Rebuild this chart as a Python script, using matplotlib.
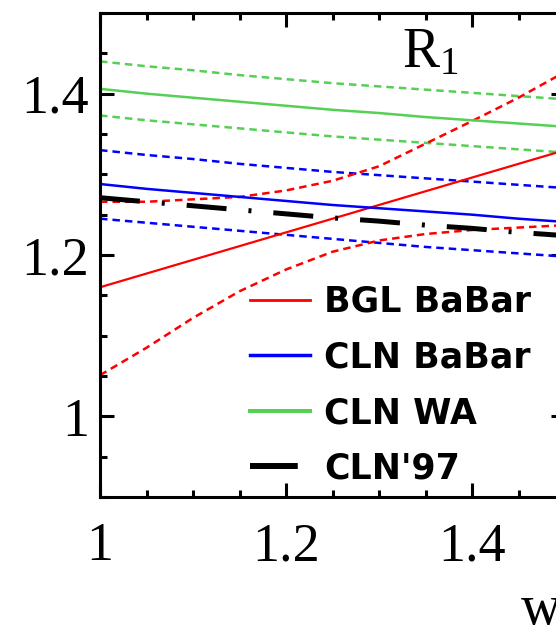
import matplotlib
matplotlib.use("Agg")
import matplotlib.pyplot as plt
import numpy as np
from matplotlib.ticker import MultipleLocator

# recoil w and the R1 curves
w = [1.00, 1.05, 1.10, 1.15, 1.20, 1.25, 1.30, 1.35, 1.40, 1.45, 1.50]

bgl_babar = [1.160, 1.177, 1.194, 1.211, 1.228, 1.245, 1.262, 1.279, 1.296, 1.313, 1.330]
bgl_babar_hi = [1.266, 1.266, 1.269, 1.272, 1.280, 1.292, 1.310, 1.338, 1.366, 1.395, 1.427]
bgl_babar_lo = [1.051, 1.085, 1.122, 1.155, 1.182, 1.204, 1.218, 1.226, 1.231, 1.234, 1.237]

cln_babar = [1.288, 1.282, 1.277, 1.272, 1.267, 1.262, 1.258, 1.254, 1.250, 1.245, 1.241]
cln_babar_hi = [1.330, 1.324, 1.319, 1.313, 1.308, 1.303, 1.299, 1.295, 1.291, 1.287, 1.283]
cln_babar_lo = [1.245, 1.240, 1.235, 1.230, 1.225, 1.220, 1.215, 1.210, 1.206, 1.202, 1.198]

cln_wa = [1.406, 1.400, 1.395, 1.390, 1.385, 1.380, 1.376, 1.371, 1.367, 1.363, 1.359]
cln_wa_hi = [1.440, 1.434, 1.429, 1.423, 1.418, 1.413, 1.409, 1.405, 1.401, 1.397, 1.393]
cln_wa_lo = [1.373, 1.367, 1.362, 1.357, 1.352, 1.347, 1.343, 1.339, 1.335, 1.331, 1.327]

cln97 = [1.271, 1.266, 1.261, 1.256, 1.251, 1.246, 1.242, 1.237, 1.233, 1.228, 1.224]

RED = "#ff0000"
BLUE = "#0000ff"
GREEN = "#55d055"
dotted = (0, (3, 2))

plt.rcParams["font.family"] = ["Liberation Serif", "DejaVu Serif"]
plt.rcParams["mathtext.fontset"] = "custom"
plt.rcParams["mathtext.rm"] = "Liberation Serif"

fig = plt.figure(figsize=(5.56, 6.25), dpi=100)
ax = fig.add_axes([100 / 556, 128 / 625, 465 / 556, 484 / 625])

ax.plot(w, cln_wa_hi, color=GREEN, lw=1.8, ls=dotted)
ax.plot(w, cln_wa_lo, color=GREEN, lw=1.8, ls=dotted)
ax.plot(w, cln_babar_hi, color=BLUE, lw=1.8, ls=dotted)
ax.plot(w, cln_babar_lo, color=BLUE, lw=1.8, ls=dotted)
ax.plot(w, bgl_babar_hi, color=RED, lw=1.8, ls=dotted)
ax.plot(w, bgl_babar_lo, color=RED, lw=1.8, ls=dotted)

ax.plot(w, bgl_babar, color=RED, lw=1.6, label="BGL BaBar")
ax.plot(w, cln_babar, color=BLUE, lw=1.8, label="CLN BaBar")
ax.plot(w, cln_wa, color=GREEN, lw=1.8, label="CLN WA")
ax.plot(w, cln97, color="black", lw=3.6, ls=(0, (8, 4.4, 0.6, 4.4)), label="CLN'97")

ax.set_xlim(1.0, 1.5)
ax.set_ylim(0.9, 1.5)
ax.xaxis.set_major_locator(MultipleLocator(0.2))
ax.xaxis.set_minor_locator(MultipleLocator(0.05))
ax.yaxis.set_major_locator(MultipleLocator(0.2))
ax.yaxis.set_minor_locator(MultipleLocator(0.05))
fmt = plt.FuncFormatter(lambda v, p: "1" if abs(v - 1) < 1e-9 else f"{v:.1f}")
ax.xaxis.set_major_formatter(fmt)
ax.yaxis.set_major_formatter(fmt)

ax.tick_params(which="both", direction="in", top=True, right=True, width=2.2, labelsize=39)
ax.tick_params(which="major", length=10)
ax.tick_params(which="minor", length=5)
ax.tick_params(axis="y", pad=8)
ax.tick_params(axis="x", pad=18)
for s in ax.spines.values():
    s.set_linewidth(2.2)

ax.text((402 - 100) / 465, 1 - (67 - 13) / 484, r"$\mathregular{R_1}$", transform=ax.transAxes,
        fontsize=40, ha="left", va="baseline")

fig.text(521 / 556, 1 / 625, "w", fontsize=40, ha="left", va="baseline")

leg = ax.legend(loc="upper left", bbox_to_anchor=(250 / 556, 1 - 285 / 625), bbox_transform=fig.transFigure,
                frameon=False, prop={"family": "DejaVu Sans", "weight": "bold", "size": 25},
                handlelength=1.72, handletextpad=0.42, labelspacing=0.62, borderpad=0, borderaxespad=0)
for line, lw in zip(leg.get_lines(), [2.0, 2.5, 2.9, 4.3]):
    line.set_linewidth(lw)

fig.savefig("out.png", dpi=100)
